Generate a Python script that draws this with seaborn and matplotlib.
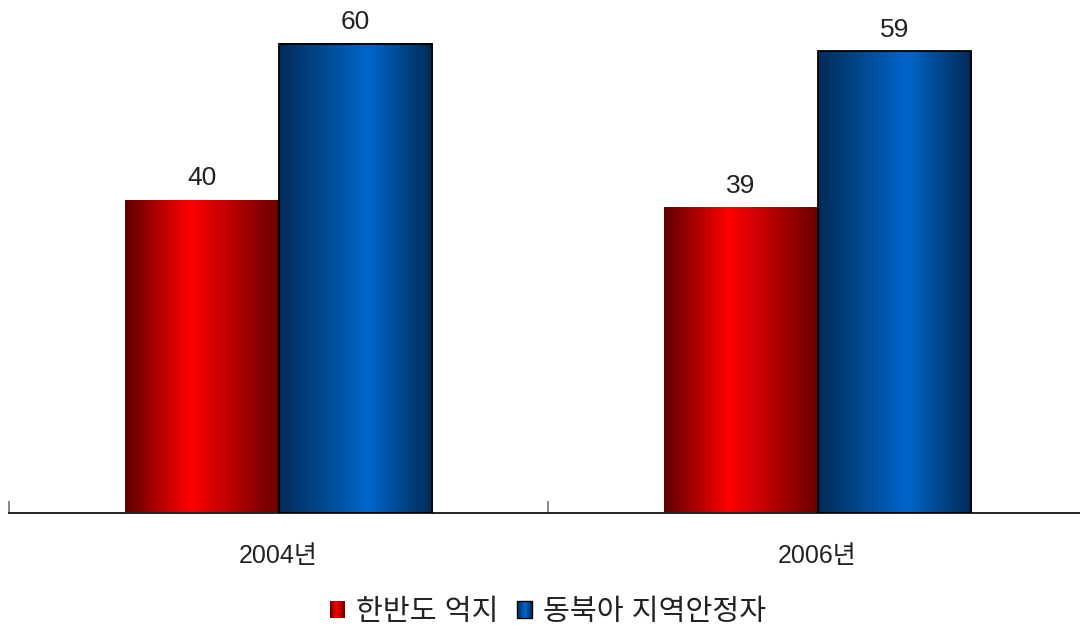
import numpy as np
import pandas as pd
import matplotlib
matplotlib.use("Agg")
import matplotlib.pyplot as plt
from matplotlib.colors import LinearSegmentedColormap
from matplotlib.patches import Rectangle
from matplotlib.legend_handler import HandlerBase
from matplotlib.ticker import FixedLocator
import seaborn as sns

# Survey results (%)
years = ["2004년", "2006년"]
series = ["한반도 억지", "동북아 지역안정자"]
deter = [40, 39]
stability = [60, 59]

sns.set_theme(style="white")
plt.rcParams["font.family"] = ["Liberation Sans", "Noto Sans CJK KR", "DejaVu Sans"]

df = pd.DataFrame({
    "year": years * 2,
    "role": [series[0]] * len(years) + [series[1]] * len(years),
    "value": deter + stability,
})

# horizontal metallic shading for each series
red_cmap = LinearSegmentedColormap.from_list(
    "red_metal", [(0.0, "#5e0000"), (0.42, "#ff0000"), (1.0, "#6a0000")])
blue_cmap = LinearSegmentedColormap.from_list(
    "blue_metal", [(0.0, "#002c58"), (0.58, "#0066cc"), (1.0, "#002a55")])
cmaps = {series[0]: red_cmap, series[1]: blue_cmap}
edges = {series[0]: "none", series[1]: "black"}

fig = plt.figure(figsize=(10.8, 6.3), dpi=100)
ax = fig.add_axes([9 / 1080, 117 / 630, 1078 / 1080, 513 / 630])

sns.barplot(data=df, x="year", y="value", hue="role", hue_order=series,
            order=years, palette=["#ff0000", "#0066cc"], width=0.571,
            ax=ax, legend=False)

ax.set_xlim(-0.5, 1.5)
ax.set_ylim(0, 65.56)

grad = np.linspace(0, 1, 256).reshape(1, -1)
for container, name in zip(ax.containers, series):
    for bar in container:
        x0, y0 = bar.get_x(), bar.get_y()
        w, h = bar.get_width(), bar.get_height()
        ax.imshow(grad, cmap=cmaps[name], aspect="auto",
                  extent=[x0, x0 + w, y0, y0 + h], zorder=2,
                  interpolation="bilinear")
        bar.set_facecolor("none")
        bar.set_edgecolor(edges[name])
        bar.set_linewidth(1.3)
        bar.set_zorder(3)
    ax.bar_label(container, fmt="%d", padding=7, fontsize=19, color="#222222")

ax.set_xlim(-0.5, 1.5)
ax.set_ylim(0, 65.56)

# axis styling
for side in ["left", "right", "top"]:
    ax.spines[side].set_visible(False)
ax.spines["bottom"].set_color("#222222")
ax.spines["bottom"].set_linewidth(1.4)
ax.set_yticks([])
ax.set_xlabel("")
ax.set_ylabel("")
ax.xaxis.set_minor_locator(FixedLocator([-0.5, 0.5, 1.5]))
ax.tick_params(axis="x", which="major", length=0, pad=22, labelsize=18,
               labelcolor="#222222")
ax.tick_params(axis="x", which="minor", direction="in", length=9, width=1.4,
               color="#888888", bottom=True)


class GradientHandler(HandlerBase):
    def __init__(self, cmap, edge):
        super().__init__()
        self.cmap = cmap
        self.edge = edge

    def create_artists(self, legend, orig_handle, xdescent, ydescent,
                       width, height, fontsize, trans):
        n = 24
        arts = []
        for i in range(n):
            r = Rectangle((-xdescent + width * i / n, -ydescent), width / n + 0.3,
                          height, facecolor=self.cmap((i + 0.5) / n),
                          edgecolor="none", transform=trans)
            arts.append(r)
        arts.append(Rectangle((-xdescent, -ydescent), width, height,
                              facecolor="none", edgecolor=self.edge,
                              linewidth=1.0, transform=trans))
        return arts


h_red = Rectangle((0, 0), 1, 1)
h_blue = Rectangle((0, 0), 1, 1)
fig.legend([h_red, h_blue], series, loc="center",
           bbox_to_anchor=(548 / 1080, 1 - 612 / 630), ncol=2, frameon=False,
           fontsize=21, handlelength=0.52, handleheight=0.55,
           handletextpad=0.38, columnspacing=0.62, labelcolor="#222222",
           handler_map={h_red: GradientHandler(red_cmap, "none"),
                        h_blue: GradientHandler(blue_cmap, "black")})

fig.savefig("out.png", dpi=100)
